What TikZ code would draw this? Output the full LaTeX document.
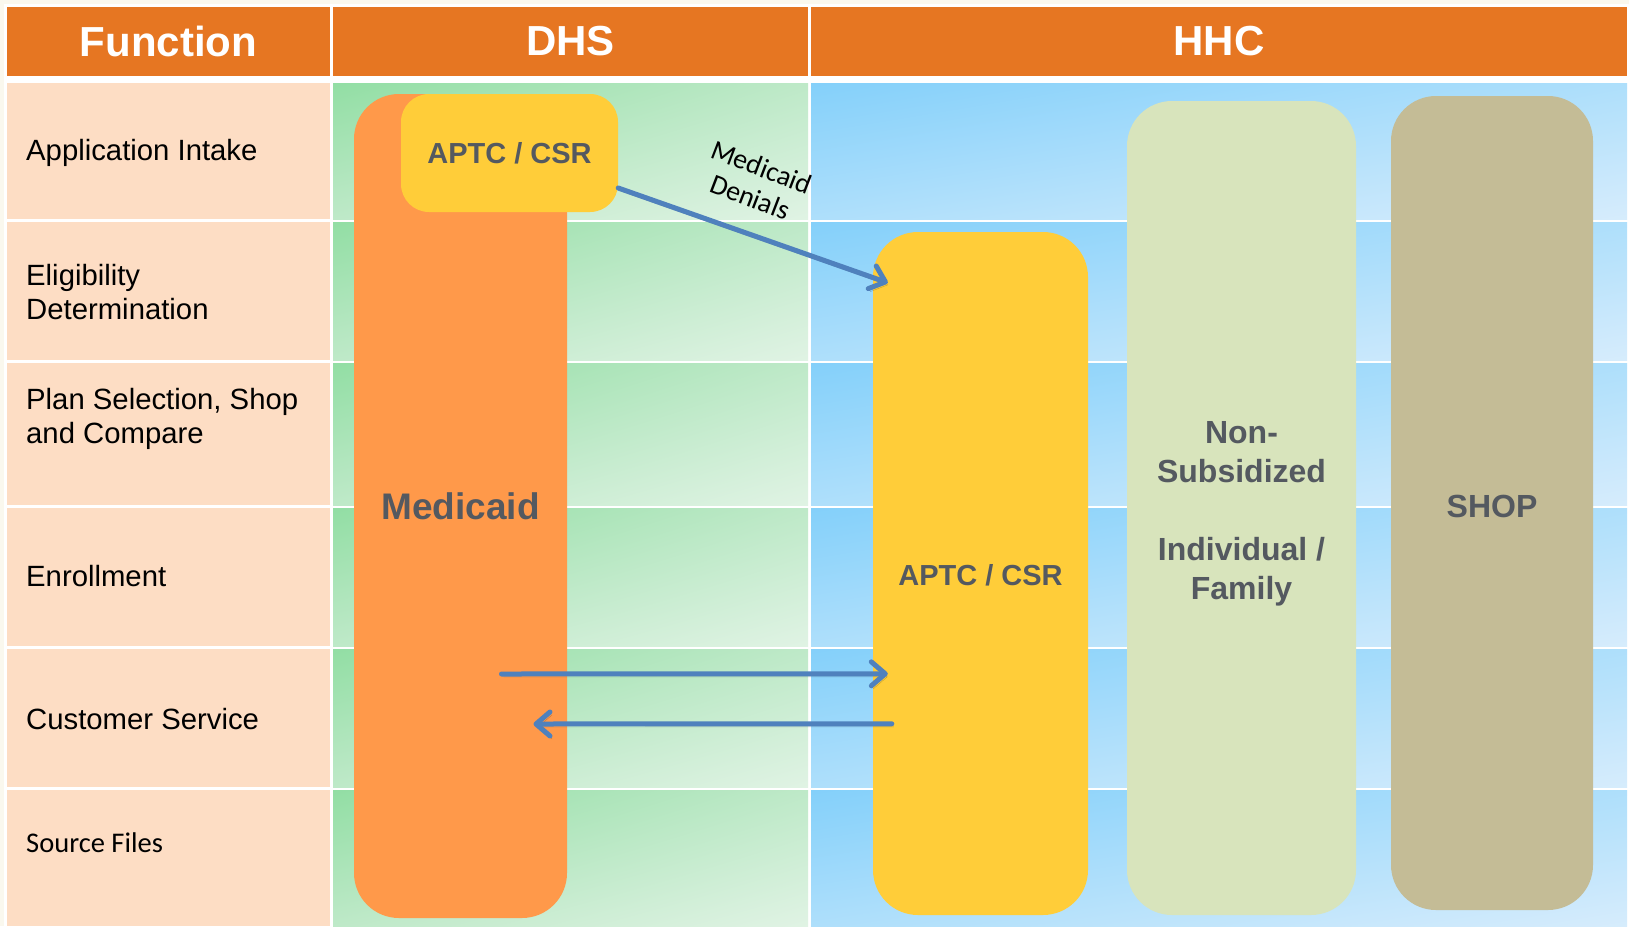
\documentclass[tikz,border=0pt]{standalone}
\usepackage{fontspec}
\setmainfont{Liberation Sans}
\newfontfamily\calib{Carlito}
\usetikzlibrary{arrows.meta,calc,shadings}
\definecolor{hdr}{RGB}{230,118,34}
\definecolor{peach}{RGB}{253,221,196}
\definecolor{cream}{RGB}{250,248,238}
\definecolor{gA}{RGB}{146,222,164}
\definecolor{gB}{RGB}{224,243,228}
\definecolor{gM}{RGB}{190,233,200}
\definecolor{bA}{RGB}{132,208,250}
\definecolor{bB}{RGB}{214,236,252}
\definecolor{bM}{RGB}{174,223,251}
\definecolor{medor}{RGB}{255,153,74}
\definecolor{yel}{RGB}{255,205,57}
\definecolor{nonsub}{RGB}{216,228,188}
\definecolor{shopc}{RGB}{196,188,150}
\definecolor{txt}{RGB}{84,89,96}
\definecolor{arr}{RGB}{79,129,189}
\tikzset{
  hdrcell/.style={fill=hdr, text=white, inner sep=0pt, font=\bfseries\fontsize{42}{48}\selectfont},
  lbl/.style={anchor=west, align=left, inner sep=0pt, text=black, font=\fontsize{29.3}{34}\selectfont},
  col/.style={rounded corners=45pt, inner sep=0pt, text=txt, align=center, font=\bfseries\fontsize{32}{39}\selectfont},
  conn/.style={draw=arr, line width=5pt, line cap=round,
    -{Straight Barb[round,length=14pt,width=24pt]},
    preaction={draw=black, opacity=0.22, transform canvas={shift={(2pt,-3pt)}}}},
}
\begin{document}
\begin{tikzpicture}[x=1pt,y=-1pt]
\useasboundingbox (0,0) rectangle (1629,926);
\fill[cream] (0,0) rectangle (1629,926);
\fill[white] (4,4) rectangle (1629,926);
% header
\node[hdrcell, minimum width=323pt, minimum height=69pt] (hf) at (168.5,41.5) {Function};
\node[hdrcell, minimum width=475pt, minimum height=69pt] (hd) at (570.5,41.5) {DHS};
\node[hdrcell, minimum width=816pt, minimum height=69pt] (hh) at (1219,41.5) {HHC};
% cells
\foreach \t/\b in {83/219,222/360,363/505,508/646,649/787,790/926}{
  \fill[peach] (7,\t) rectangle (330,\b);
  \shade[upper left=gA, lower right=gB, upper right=gM, lower left=gM] (333,\t) rectangle (808,\b);
  \shade[upper left=bA, lower right=bB, upper right=bM, lower left=bM] (811,\t) rectangle (1627,\b);
}
% row labels
\node[lbl] (l1) at (26,153) {Application Intake};
\node[lbl] (l2) at (26,292) {Eligibility\\Determination};
\node[lbl] (l3) at (26,419) {Plan Selection, Shop\\and Compare};
\node[lbl] (l4) at (26,576) {Enrollment};
\node[lbl] (l5) at (26,719) {Customer Service};
\node[lbl, font=\calib\fontsize{28.5}{34}\selectfont] (l6) at (26,843) {Source Files};
% columns
\node[col, fill=medor, minimum width=213pt, minimum height=824pt, font=\bfseries\fontsize{37}{44}\selectfont] (medicaid) at (460.5,506) {Medicaid};
\node[col, fill=yel, rounded corners=28pt, minimum width=217pt, minimum height=118pt, font=\bfseries\fontsize{29}{35}\selectfont] (aptc1) at (509.5,153) {APTC / CSR};
\node[col, fill=yel, minimum width=215pt, minimum height=683pt, font=\bfseries\fontsize{29}{35}\selectfont] (aptc2) at (980.5,573.5) {\raisebox{-2pt}[\height][\depth]{APTC / CSR}};
\node[col, fill=nonsub, minimum width=229pt, minimum height=814pt] (nonsub) at (1241.5,508) {\raisebox{-6pt}[\height][\depth]{\parbox{225pt}{\centering Non-\\Subsidized\\[39pt]Individual /\\Family}}};
\node[col, fill=shopc, minimum width=202pt, minimum height=814pt] (shop) at (1492,503) {\raisebox{-3pt}[\height][\depth]{SHOP}};
% connectors
\coordinate (d1) at ($(aptc1.east)+(0,35)$);
\coordinate (d2) at ($(aptc2.north west)+(15,51)$);
\coordinate (r1) at ($(medicaid.center)+(41,168)$);
\coordinate (r2) at ($(aptc2.north west)+(15,442)$);
\coordinate (s1) at ($(aptc2.north west)+(19,492)$);
\coordinate (s2) at ($(medicaid.center)+(73,218)$);
\draw[conn] (d1) -- (d2);
\draw[conn] (r1) -- (r2);
\draw[conn] (s1) -- (s2);
\node[rotate=-21, align=center, inner sep=0pt, font=\calib\fontsize{28}{32}\selectfont] (den) at (756,182) {Medicaid\\Denials};
\end{tikzpicture}
\end{document}
